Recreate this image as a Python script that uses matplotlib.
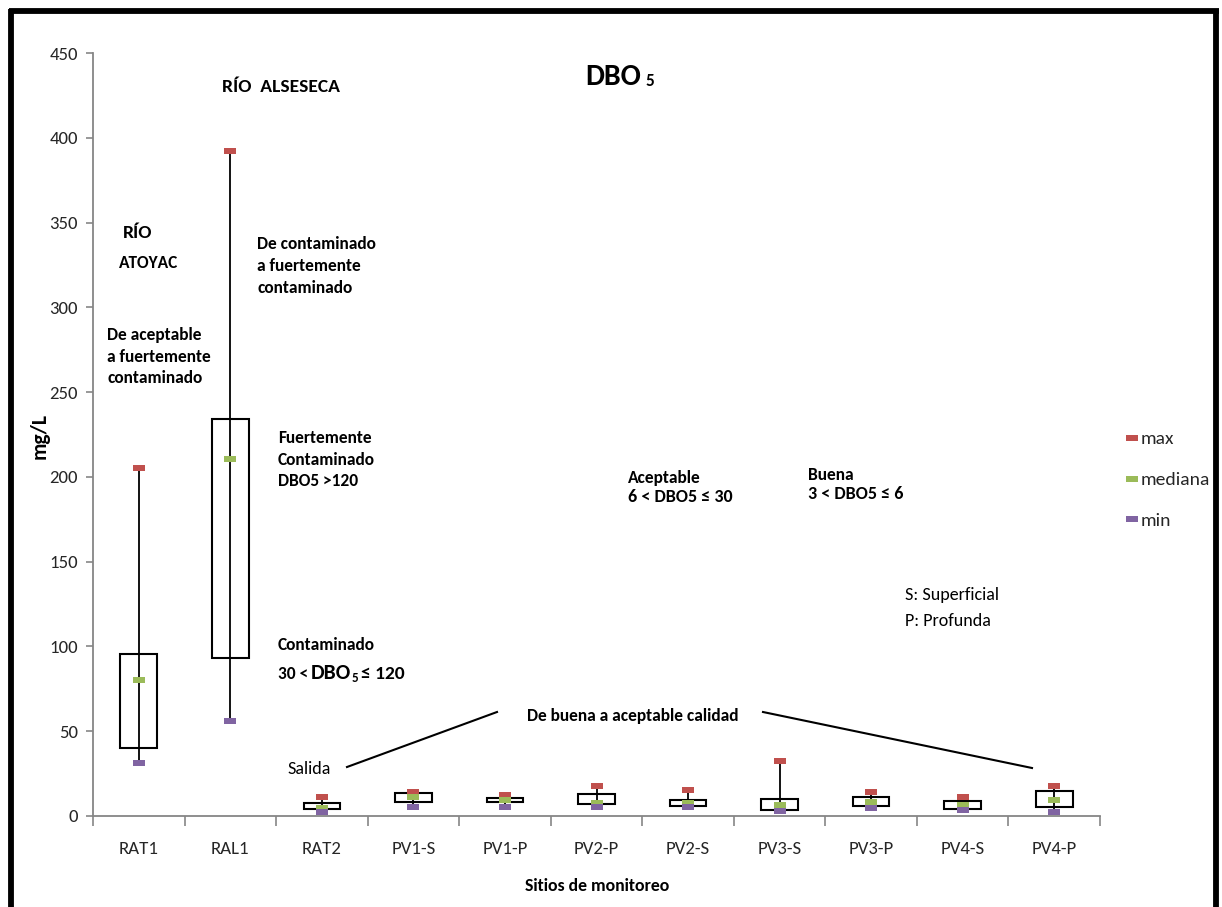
import matplotlib
matplotlib.use("Agg")
import matplotlib.pyplot as plt
from matplotlib.path import Path
from matplotlib.lines import Line2D
from matplotlib import font_manager as fm
import numpy as np

_avail = {f.name for f in fm.fontManager.ttflist}
_main = next((f for f in ["Carlito", "PT Sans Narrow", "Roboto Condensed", "Liberation Sans"] if f in _avail), "DejaVu Sans")
plt.rcParams['font.family'] = [_main, 'DejaVu Sans']

# ---------------- data ----------------
sites = ["RAT1", "RAL1", "RAT2", "PV1-S", "PV1-P", "PV2-P", "PV2-S",
         "PV3-S", "PV3-P", "PV4-S", "PV4-P"]
max_vals = [205, 392, 11.3, 14.0, 12.4, 17.4, 15.4, 32.6, 14.4, 11.3, 17.4]
median_vals = [80, 210.5, 4.9, 11.4, 9.4, 7.8, 7.8, 6.5, 8.3, 6.5, 9.4]
min_vals = [31, 56, 2.5, 5.5, 5.5, 5.5, 5.5, 3.2, 4.5, 3.5, 2.4]
q3_vals = [95.5, 234, 7.8, 13.7, 10.6, 12.7, 9.4, 10.3, 11.5, 8.6, 14.7]
q1_vals = [40, 93, 4.1, 8.3, 8.0, 7.1, 6.0, 3.5, 6.0, 4.1, 5.3]
yticks = [0, 50, 100, 150, 200, 250, 300, 350, 400, 450]

C_MAX = "#C0504D"
C_MED = "#9BBB59"
C_MIN = "#8064A2"
GRAY = "#868686"
TXT = "#262626"

W, H = 1222, 907
fig = plt.figure(figsize=(W / 100, H / 100), dpi=100)
ax = fig.add_axes([93 / W, 1 - 816 / H, (1100 - 93) / W, (816 - 53) / H])

x = np.arange(len(sites))
bw = 0.4
rect = Path([(-1, -0.42), (1, -0.42), (1, 0.42), (-1, 0.42), (-1, -0.42)],
            [Path.MOVETO, Path.LINETO, Path.LINETO, Path.LINETO, Path.CLOSEPOLY])

# high-low lines
ax.vlines(x, min_vals, max_vals, color="black", lw=1.3, zorder=2)
# up-down bars
for xi, lo, hi in zip(x, q1_vals, q3_vals):
    ax.add_patch(plt.Rectangle((xi - bw / 2, lo), bw, hi - lo, facecolor="none",
                               edgecolor="black", lw=1.5, zorder=3))
mk = dict(marker=rect, markersize=9, linestyle="none", markeredgewidth=0, zorder=4)
h_max, = ax.plot(x, max_vals, color=C_MAX, label="max", **mk)
h_med, = ax.plot(x, median_vals, color=C_MED, label="mediana", **mk)
h_min, = ax.plot(x, min_vals, color=C_MIN, label="min", **mk)

ax.set_xlim(-0.5, len(sites) - 0.5)
ax.set_ylim(0, 450)
ax.set_yticks(yticks)
ax.set_xticks(x)
ax.set_xticklabels(sites)
ax.set_xticks(np.arange(-0.5, len(sites), 1.0), minor=True)
ax.tick_params(axis="x", which="major", length=0, pad=18, labelsize=13.5, colors=TXT)
ax.tick_params(axis="x", which="minor", length=7, color=GRAY, width=1.2, direction="out")
ax.tick_params(axis="y", length=5, color=GRAY, width=1.2, pad=6, labelsize=13.5, labelcolor=TXT)
for s in ["top", "right"]:
    ax.spines[s].set_visible(False)
for s in ["left", "bottom"]:
    ax.spines[s].set_color(GRAY)
    ax.spines[s].set_linewidth(1.3)

ax.legend(handles=[h_max, h_med, h_min], loc="center left",
          bbox_to_anchor=((1118 - 93) / (1100 - 93), (816 - 480) / (816 - 53)),
          frameon=False, fontsize=14, labelspacing=1.25, handlelength=0.6,
          handletextpad=0.15, numpoints=1, borderaxespad=0)
for t in ax.get_legend().get_texts():
    t.set_color(TXT)


def T(px, py, s, size=12.5, weight="bold", ha="left", va="center", **kw):
    return fig.text(px / W, 1 - py / H, s, fontsize=size, fontweight=weight,
                    ha=ha, va=va, color=kw.pop("color", "black"), **kw)


renderer = fig.canvas.get_renderer()


def seq(px, py, pieces):
    """pieces: (text, size, baseline offset px, gap px)"""
    cur = px
    for s, size, dy, gap in pieces:
        t = fig.text(cur / W, 1 - (py + dy) / H, s, fontsize=size, fontweight="bold",
                     ha="left", va="baseline")
        bb = t.get_window_extent(renderer)
        cur = bb.x1 + gap


# axis titles
T(40, 436, "mg/L", size=15.5, rotation=90, ha="center")
T(597, 886, "Sitios de monitoreo", size=12.8, ha="center")

# title
seq(585, 85, [("DBO", 21.5, 0, 5), ("5", 12.5, 1, 0)])

T(222, 87, "RÍO  ALSESECA", size=14)
T(123, 233, "RÍO", size=14)
T(119, 263, "ATOYAC", size=12.5)

for i, s in enumerate(["De aceptable", "a fuertemente", "contaminado"]):
    T(107, 335 + 21.5 * i, s)
for i, s in enumerate(["De contaminado", "a fuertemente", "contaminado"]):
    T(257, 244 + 22 * i, s)
for i, s in enumerate(["Fuertemente", "Contaminado", "DBO5 >120"]):
    T(278, 438 + 21.5 * i, s)

T(278, 645, "Contaminado")
seq(278, 679, [("30 <", 12.5, 0, 3), ("DBO", 15.5, 0, 0), ("5", 9.5, 3, 3), ("≤ 120", 14, 0, 0)])

T(628, 478, "Aceptable")
T(628, 497, "6 < DBO5 ≤ 30", size=13)
T(808, 475, "Buena")
T(808, 494, "3 < DBO5 ≤ 6", size=13)

T(905, 595, "S: Superficial", size=13, weight="normal")
T(905, 621, "P: Profunda", size=13, weight="normal")

T(527, 716, "De buena a aceptable calidad")
T(287, 769, "Salida", size=13, weight="normal")

# connector lines
fig.add_artist(Line2D([347 / W, 497 / W], [1 - 767 / H, 1 - 712 / H], color="black", lw=1.5))
fig.add_artist(Line2D([763 / W, 1032 / W], [1 - 712 / H, 1 - 768 / H], color="black", lw=1.5))

# outer frame
bl = 4.2
fig.add_artist(Line2D([11 / W, 11 / W], [0, 1 - 8.5 / H], color="black", lw=bl, solid_capstyle="butt"))
fig.add_artist(Line2D([8.5 / W, 1218.5 / W], [1 - 11 / H, 1 - 11 / H], color="black", lw=bl, solid_capstyle="butt"))
fig.add_artist(Line2D([1216 / W, 1216 / W], [0, 1 - 8.5 / H], color="black", lw=bl, solid_capstyle="butt"))

fig.savefig("out.png", dpi=100, facecolor="white")
